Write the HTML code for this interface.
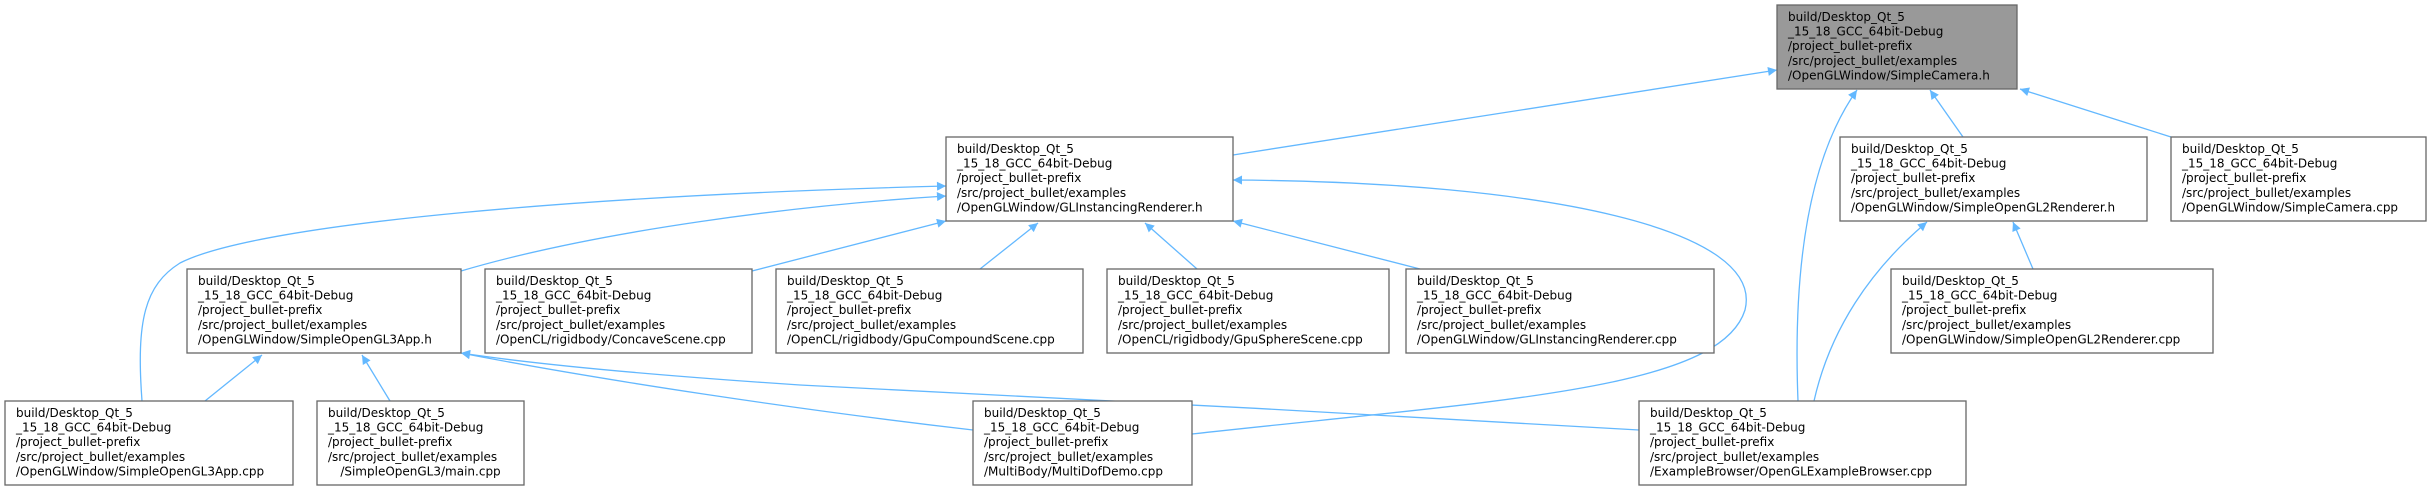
<!DOCTYPE html>
<html><head><meta charset="utf-8"><style>
html,body{margin:0;padding:0;background:#fff;}
svg{display:block;}
text{font-family:"DejaVu Sans","Liberation Sans",sans-serif;font-size:12px;fill:#000;}
.b{fill:#fff;stroke:#666;stroke-width:1.3;}
.r{fill:#999;stroke:#666;stroke-width:1.3;}
.e{fill:none;stroke:#63b8ff;stroke-width:1.3;}
</style></head><body>
<svg width="2431" height="491" viewBox="0 0 2431 491" xmlns="http://www.w3.org/2000/svg">
<defs><marker id="a" viewBox="0 0 10 10" refX="10" refY="5" markerWidth="12" markerHeight="9" markerUnits="userSpaceOnUse" orient="auto"><path d="M0,0 L10,5 L0,10 z" fill="#63b8ff"/></marker></defs>
<g class="e" marker-end="url(#a)">
<path d="M1233,155 L1777,70"/>
<path d="M1798,401 C1794,300 1800,170 1857,90"/>
<path d="M1963,137 L1930,90"/>
<path d="M2171,137 L2020,89"/>
<path d="M461,271 C600,230 800,205 946,196"/>
<path d="M142,401 C136,320 145,285 180,263 C260,222 600,195 946,186"/>
<path d="M752,271 L946,221"/>
<path d="M980,269 L1038,223"/>
<path d="M1197,269 L1145,223"/>
<path d="M1420,269 L1233,221"/>
<path d="M1192,434 C1500,400 1720,390 1745,310 C1765,230 1550,182 1233,180"/>
<path d="M973,430 C800,410 600,380 461,353"/>
<path d="M1639,430 C1400,415 1000,395 800,385 C650,375 540,365 461,353"/>
<path d="M205,401 L262,355"/>
<path d="M390,401 L362,355"/>
<path d="M1814,401 C1830,330 1870,270 1927,222"/>
<path d="M2033,269 L2013,222"/>
</g>
<g>
<rect class="r" x="1777" y="5" width="240" height="84"/>
<text x="1788" y="21">build/Desktop_Qt_5</text><text x="1788" y="35.6">_15_18_GCC_64bit-Debug</text><text x="1788" y="50.2">/project_bullet-prefix</text><text x="1788" y="64.8">/src/project_bullet/examples</text><text x="1788" y="79.4">/OpenGLWindow/SimpleCamera.h</text>

<rect class="b" x="946" y="137" width="287" height="84"/>
<text x="957" y="153">build/Desktop_Qt_5</text><text x="957" y="167.6">_15_18_GCC_64bit-Debug</text><text x="957" y="182.2">/project_bullet-prefix</text><text x="957" y="196.8">/src/project_bullet/examples</text><text x="957" y="211.4">/OpenGLWindow/GLInstancingRenderer.h</text>

<rect class="b" x="1840" y="137" width="307" height="84"/>
<text x="1851" y="153">build/Desktop_Qt_5</text><text x="1851" y="167.6">_15_18_GCC_64bit-Debug</text><text x="1851" y="182.2">/project_bullet-prefix</text><text x="1851" y="196.8">/src/project_bullet/examples</text><text x="1851" y="211.4">/OpenGLWindow/SimpleOpenGL2Renderer.h</text>

<rect class="b" x="2171" y="137" width="255" height="84"/>
<text x="2182" y="153">build/Desktop_Qt_5</text><text x="2182" y="167.6">_15_18_GCC_64bit-Debug</text><text x="2182" y="182.2">/project_bullet-prefix</text><text x="2182" y="196.8">/src/project_bullet/examples</text><text x="2182" y="211.4">/OpenGLWindow/SimpleCamera.cpp</text>

<rect class="b" x="187" y="269" width="274" height="84"/>
<text x="198" y="285">build/Desktop_Qt_5</text><text x="198" y="299.6">_15_18_GCC_64bit-Debug</text><text x="198" y="314.2">/project_bullet-prefix</text><text x="198" y="328.8">/src/project_bullet/examples</text><text x="198" y="343.4">/OpenGLWindow/SimpleOpenGL3App.h</text>

<rect class="b" x="485" y="269" width="267" height="84"/>
<text x="496" y="285">build/Desktop_Qt_5</text><text x="496" y="299.6">_15_18_GCC_64bit-Debug</text><text x="496" y="314.2">/project_bullet-prefix</text><text x="496" y="328.8">/src/project_bullet/examples</text><text x="496" y="343.4">/OpenCL/rigidbody/ConcaveScene.cpp</text>

<rect class="b" x="776" y="269" width="307" height="84"/>
<text x="787" y="285">build/Desktop_Qt_5</text><text x="787" y="299.6">_15_18_GCC_64bit-Debug</text><text x="787" y="314.2">/project_bullet-prefix</text><text x="787" y="328.8">/src/project_bullet/examples</text><text x="787" y="343.4">/OpenCL/rigidbody/GpuCompoundScene.cpp</text>

<rect class="b" x="1107" y="269" width="282" height="84"/>
<text x="1118" y="285">build/Desktop_Qt_5</text><text x="1118" y="299.6">_15_18_GCC_64bit-Debug</text><text x="1118" y="314.2">/project_bullet-prefix</text><text x="1118" y="328.8">/src/project_bullet/examples</text><text x="1118" y="343.4">/OpenCL/rigidbody/GpuSphereScene.cpp</text>

<rect class="b" x="1406" y="269" width="308" height="84"/>
<text x="1417" y="285">build/Desktop_Qt_5</text><text x="1417" y="299.6">_15_18_GCC_64bit-Debug</text><text x="1417" y="314.2">/project_bullet-prefix</text><text x="1417" y="328.8">/src/project_bullet/examples</text><text x="1417" y="343.4">/OpenGLWindow/GLInstancingRenderer.cpp</text>

<rect class="b" x="1891" y="269" width="322" height="84"/>
<text x="1902" y="285">build/Desktop_Qt_5</text><text x="1902" y="299.6">_15_18_GCC_64bit-Debug</text><text x="1902" y="314.2">/project_bullet-prefix</text><text x="1902" y="328.8">/src/project_bullet/examples</text><text x="1902" y="343.4">/OpenGLWindow/SimpleOpenGL2Renderer.cpp</text>

<rect class="b" x="5" y="401" width="288" height="84"/>
<text x="16" y="417">build/Desktop_Qt_5</text><text x="16" y="431.6">_15_18_GCC_64bit-Debug</text><text x="16" y="446.2">/project_bullet-prefix</text><text x="16" y="460.8">/src/project_bullet/examples</text><text x="16" y="475.4">/OpenGLWindow/SimpleOpenGL3App.cpp</text>

<rect class="b" x="317" y="401" width="207" height="84"/>
<text x="328" y="417">build/Desktop_Qt_5</text><text x="328" y="431.6">_15_18_GCC_64bit-Debug</text><text x="328" y="446.2">/project_bullet-prefix</text><text x="328" y="460.8">/src/project_bullet/examples</text><text x="420.5" y="475.4" text-anchor="middle">/SimpleOpenGL3/main.cpp</text>

<rect class="b" x="973" y="401" width="219" height="84"/>
<text x="984" y="417">build/Desktop_Qt_5</text><text x="984" y="431.6">_15_18_GCC_64bit-Debug</text><text x="984" y="446.2">/project_bullet-prefix</text><text x="984" y="460.8">/src/project_bullet/examples</text><text x="984" y="475.4">/MultiBody/MultiDofDemo.cpp</text>

<rect class="b" x="1639" y="401" width="327" height="84"/>
<text x="1650" y="417">build/Desktop_Qt_5</text><text x="1650" y="431.6">_15_18_GCC_64bit-Debug</text><text x="1650" y="446.2">/project_bullet-prefix</text><text x="1650" y="460.8">/src/project_bullet/examples</text><text x="1650" y="475.4">/ExampleBrowser/OpenGLExampleBrowser.cpp</text>
</g>
</svg>
</body></html>
